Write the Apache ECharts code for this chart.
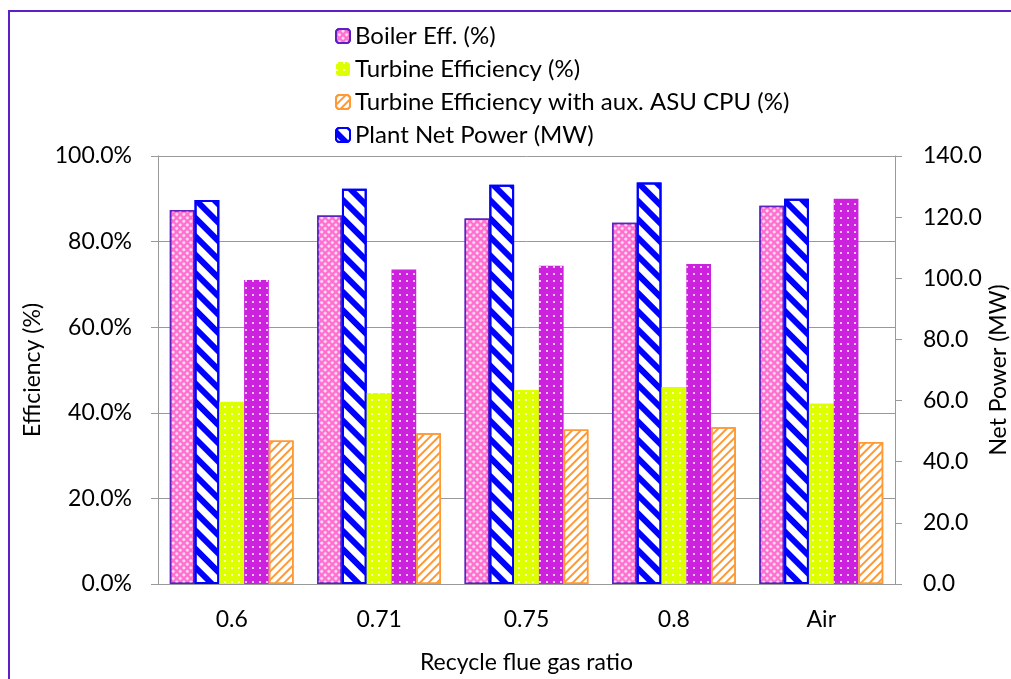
<!DOCTYPE html>
<html>
<head>
<meta charset="utf-8">
<script src="https://cdn.jsdelivr.net/npm/echarts@6/dist/echarts.min.js"></script>
<style>
  html, body { margin: 0; padding: 0; background: #fff; }
  #main { width: 1011px; height: 679px; }
</style>
</head>
<body>
<div id="main"></div>
<script>
// categories on the x axis
var ratios = ['0.6', '0.71', '0.75', '0.8', 'Air'];
// efficiencies in %, left axis
var boilerEff = [87.4, 86.1, 85.4, 84.4, 88.4];
var turbineEff = [42.6, 44.6, 45.3, 46.0, 42.2];
var turbineEffAux = [33.5, 35.2, 36.1, 36.6, 33.2];
// power in MW, right axis
var netPower = [125.6, 129.3, 130.6, 131.3, 126.0];
var netPowerAux = [99.4, 102.9, 104.1, 104.7, 126.0];

var FONT = 'Lato';
var FS = 23;
var chart = echarts.init(document.getElementById('main'));

function dots(color) {
  return {
    symbol: 'circle',
    symbolSize: 1,
    color: color,
    dashArrayX: [2, 5],
    dashArrayY: [2, 5]
  };
}

chart.setOption({
  animation: false,
  textStyle: { fontFamily: FONT, color: '#000' },
  graphic: [{
    type: 'rect',
    shape: { x: 9, y: 11, width: 1200, height: 900 },
    style: { fill: 'none', stroke: '#5b21c4', lineWidth: 2 }
  }],
  legend: {
    orient: 'vertical',
    left: 330,
    top: 19,
    itemWidth: 14,
    itemHeight: 14,
    itemGap: 9,
    textStyle: { fontFamily: FONT, fontSize: 24, lineHeight: 24, color: '#000' },
    data: ['Boiler Eff. (%)', 'Turbine Efficiency (%)',
      'Turbine Efficiency with aux. ASU CPU (%)', 'Plant Net Power (MW)']
  },
  grid: { left: 158, right: 116, top: 156, bottom: 95, outerBoundsMode: 'none' },
  xAxis: {
    type: 'category',
    data: ratios,
    name: 'Recycle flue gas ratio',
    nameLocation: 'middle',
    nameGap: 67,
    nameTextStyle: { fontSize: FS },
    axisLine: { lineStyle: { color: '#999' } },
    axisTick: { length: 7, lineStyle: { color: '#999' } },
    axisLabel: { fontSize: FS, color: '#000', margin: 24 }
  },
  yAxis: [{
    type: 'value',
    min: 0, max: 100, interval: 20,
    name: 'Efficiency (%)',
    nameLocation: 'middle',
    nameGap: 114,
    nameRotate: 90,
    nameMoveOverlap: false,
    nameTextStyle: { fontSize: FS },
    axisLine: { show: true, lineStyle: { color: '#999' } },
    axisTick: { show: true, length: 7, lineStyle: { color: '#999' } },
    axisLabel: { fontSize: FS, color: '#000', margin: 26,
      formatter: function (v) { return v.toFixed(1) + '%'; } },
    splitLine: { lineStyle: { color: '#999' } }
  }, {
    type: 'value',
    position: 'right',
    min: 0, max: 140, interval: 20,
    name: 'Net Power (MW)',
    nameLocation: 'middle',
    nameGap: 92,
    nameRotate: 90,
    nameMoveOverlap: false,
    nameTextStyle: { fontSize: FS },
    axisLine: { show: true, lineStyle: { color: '#999' } },
    axisTick: { show: true, length: 7, lineStyle: { color: '#999' } },
    axisLabel: { fontSize: FS, color: '#000', margin: 28,
      formatter: function (v) { return v.toFixed(1); } },
    splitLine: { show: false }
  }],
  series: [{
    name: 'Boiler Eff. (%)',
    type: 'bar',
    yAxisIndex: 0,
    barGap: '0%',
    barCategoryGap: '16%',
    data: boilerEff,
    itemStyle: {
      color: '#ff6fcf',
      borderColor: '#5b21c4',
      borderWidth: 1.5,
      decal: {
        symbol: 'circle', symbolSize: 1, color: '#ffe6f6',
        dashArrayX: [3, 2], dashArrayY: [3, 2], rotation: Math.PI / 4
      }
    }
  }, {
    name: 'Plant Net Power (MW)',
    type: 'bar',
    yAxisIndex: 1,
    data: netPower,
    itemStyle: {
      color: '#ffffff',
      borderColor: '#0000ff',
      borderWidth: 2,
      decal: {
        symbol: 'rect', symbolSize: 1, color: '#0000ff',
        dashArrayX: [1, 0], dashArrayY: [6, 7], rotation: Math.PI / 4
      }
    }
  }, {
    name: 'Turbine Efficiency (%)',
    type: 'bar',
    yAxisIndex: 0,
    data: turbineEff,
    itemStyle: { color: '#ddff00', decal: dots('#ffffff') }
  }, {
    name: 'Plant Net Power with aux. ASU CPU (MW)',
    type: 'bar',
    yAxisIndex: 1,
    data: netPowerAux,
    itemStyle: { color: '#cc22dd', decal: dots('#ffffff') }
  }, {
    name: 'Turbine Efficiency with aux. ASU CPU (%)',
    type: 'bar',
    yAxisIndex: 0,
    data: turbineEffAux,
    itemStyle: {
      color: '#ffffff',
      borderColor: '#ff9933',
      borderWidth: 1.5,
      decal: {
        symbol: 'rect', symbolSize: 1, color: '#ff9933',
        dashArrayX: [1, 0], dashArrayY: [2, 4], rotation: -Math.PI / 4
      }
    }
  }]
});
</script>
</body>
</html>
